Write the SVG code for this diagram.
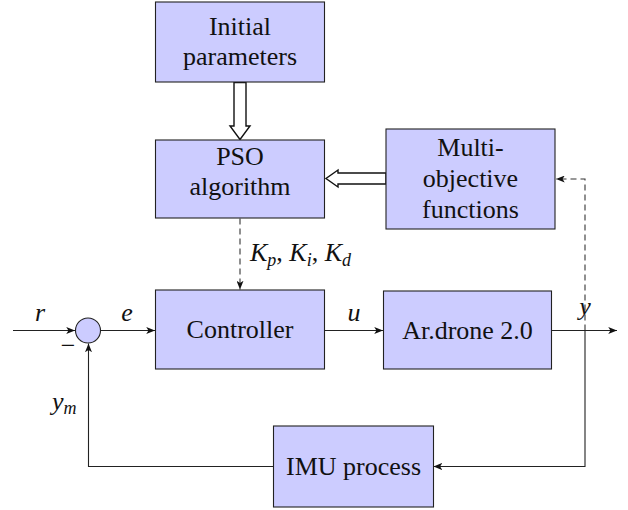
<svg xmlns="http://www.w3.org/2000/svg" width="628" height="510" viewBox="0 0 628 510">
<style>
.box{fill:#ccccff;stroke:#222;stroke-width:1.1}
.ln{fill:none;stroke:#222;stroke-width:1.1}
.dash{fill:none;stroke:#333;stroke-width:1.1;stroke-dasharray:6,4}
.dbl{fill:#fff;stroke:#111;stroke-width:1.4;stroke-linejoin:miter}
</style>
<defs>
<marker id="arr" viewBox="0 0 10 8" refX="10" refY="4" markerWidth="9" markerHeight="7" orient="auto" markerUnits="userSpaceOnUse">
<path d="M0,0 L10,4 L0,8 L2.5,4 z" fill="#111"/>
</marker>
</defs>
<rect width="628" height="510" fill="#fff"/>

<g id="connectors">
<polygon class="dbl" points="234,82.5 234,126 230,126 240,139.5 250,126 246,126 246,82.5"/>
<polygon class="dbl" points="386,173 338,173 338,170 326,178.5 338,187 338,184 386,184"/>
<path class="dash" d="M240,218.5 V289.5" marker-end="url(#arr)"/>
<path class="dash" d="M585,330.5 V179 H556" marker-end="url(#arr)"/>
<path class="ln" d="M13,330.5 H75" marker-end="url(#arr)"/>
<path class="ln" d="M100.5,330.5 H155" marker-end="url(#arr)"/>
<path class="ln" d="M325,330.5 H383" marker-end="url(#arr)"/>
<path class="ln" d="M552,330.5 H617" marker-end="url(#arr)"/>
<path class="ln" d="M585,330.5 V466.5 H433.5" marker-end="url(#arr)"/>
<path class="ln" d="M273,466.5 H88.5 V343.5" marker-end="url(#arr)"/>
<text font-family="Liberation Serif" font-size="26" font-style="italic" fill="#111" x="40" y="321" text-anchor="middle">r</text>
<text font-family="Liberation Serif" font-size="26" font-style="italic" fill="#111" x="127" y="321" text-anchor="middle">e</text>
<text font-family="Liberation Serif" font-size="26" font-style="italic" fill="#111" x="354" y="321" text-anchor="middle">u</text>
<text font-family="Liberation Serif" font-size="26" font-style="italic" fill="#111" x="585" y="315" text-anchor="middle">y</text>
<text font-family="Liberation Serif" font-size="26" font-style="italic" fill="#111" x="52" y="410">y<tspan font-size="18" dy="4">m</tspan></text>
<text font-family="Liberation Serif" font-size="26" font-style="italic" fill="#111" x="250" y="261">K<tspan font-size="18" dy="5">p</tspan><tspan dy="-5" font-style="normal">, </tspan>K<tspan font-size="18" dy="5">i</tspan><tspan dy="-5" font-style="normal">, </tspan>K<tspan font-size="18" dy="5">d</tspan></text>
<text font-family="Liberation Serif" font-size="26" fill="#111" x="68" y="354" text-anchor="middle">&#8722;</text>
</g>

<g id="init">
<rect class="box" x="155.5" y="2" width="169" height="80"/>
<text font-family="Liberation Serif" font-size="26" fill="#111" text-anchor="middle" x="240" y="35">Initial</text>
<text font-family="Liberation Serif" font-size="26" fill="#111" text-anchor="middle" x="240" y="65">parameters</text>
</g>
<g id="pso">
<rect class="box" x="155.5" y="140" width="169" height="78"/>
<text font-family="Liberation Serif" font-size="26" fill="#111" text-anchor="middle" x="240" y="165">PSO</text>
<text font-family="Liberation Serif" font-size="26" fill="#111" text-anchor="middle" x="240" y="195">algorithm</text>
</g>
<g id="multi">
<rect class="box" x="386" y="129" width="169" height="100"/>
<text font-family="Liberation Serif" font-size="26" fill="#111" text-anchor="middle" x="470.5" y="156">Multi-</text>
<text font-family="Liberation Serif" font-size="26" fill="#111" text-anchor="middle" x="470.5" y="187">objective</text>
<text font-family="Liberation Serif" font-size="26" fill="#111" text-anchor="middle" x="470.5" y="218">functions</text>
</g>
<g id="sum">
<circle cx="88" cy="330.5" r="12.5" fill="#ccccff" stroke="#222" stroke-width="1.1"/>
</g>
<g id="controller">
<rect class="box" x="155.5" y="290" width="169" height="79"/>
<text font-family="Liberation Serif" font-size="26" fill="#111" text-anchor="middle" x="240" y="338">Controller</text>
</g>
<g id="drone">
<rect class="box" x="383.5" y="291" width="168" height="78"/>
<text font-family="Liberation Serif" font-size="26" fill="#111" text-anchor="middle" x="467.5" y="339">Ar.drone 2.0</text>
</g>
<g id="imu">
<rect class="box" x="273.5" y="426" width="160" height="81"/>
<text font-family="Liberation Serif" font-size="26" fill="#111" text-anchor="middle" x="353.5" y="475">IMU process</text>
</g>
</svg>
